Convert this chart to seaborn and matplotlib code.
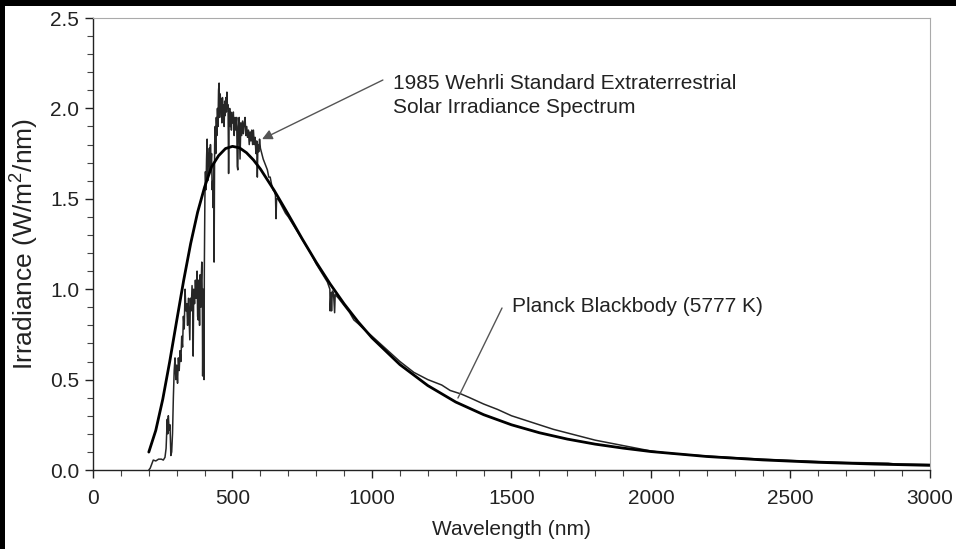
import numpy as np
import pandas as pd
import matplotlib
matplotlib.use("Agg")
import matplotlib.pyplot as plt
from matplotlib.patches import Rectangle
import seaborn as sns

# ---- Data ----
spec_wl = [200, 205, 210, 216, 225, 235, 245, 252, 258, 262, 266, 268, 270, 273, 276, 279,
           282, 285, 288, 291, 294, 297, 300, 303, 306, 309, 312, 315, 318, 321, 324, 327,
           330, 333, 336, 339, 342, 345, 347, 349, 352, 355, 358, 359, 361, 364, 367, 370,
           373, 375, 377, 379, 382, 384, 386, 388, 390, 392, 393, 395, 397, 398, 399, 401,
           403, 405, 407, 409, 411, 413, 415, 417, 419, 421, 423, 425, 427, 429, 431, 433,
           434, 436, 438, 440, 442, 444, 446, 448, 450, 452, 454, 456, 458, 460, 462, 464,
           466, 468, 470, 472, 474, 476, 478, 480, 482, 484, 486, 488, 490, 492, 494, 496,
           498, 500, 503, 506, 509, 512, 515, 517, 519, 521, 524, 527, 530, 533, 536, 539,
           542, 545, 548, 551, 554, 557, 560, 563, 566, 569, 572, 575, 578, 581, 584, 587,
           589, 591, 594, 597, 600, 605, 610, 615, 620, 625, 630, 635, 640, 645, 650, 654,
           656, 658, 662, 670, 680, 690, 700, 720, 740, 760, 780, 800, 820, 840, 849, 850,
           853, 855, 858, 862, 866, 868, 880, 900, 920, 935, 950, 970, 1000, 1050, 1100,
           1150, 1200, 1250, 1280, 1300, 1320, 1350, 1400, 1450, 1500, 1550, 1600, 1650,
           1700, 1750, 1800, 1850, 1900, 1950, 2000, 2050, 2100, 2200, 2300, 2400, 2500,
           2600, 2700, 2800, 2850, 2870, 2900, 3000]
spec_val = [0.0, 0.01, 0.03, 0.055, 0.05, 0.06, 0.06, 0.055, 0.07, 0.12, 0.28, 0.20, 0.30, 0.22, 0.25, 0.08,
            0.10, 0.20, 0.40, 0.55, 0.62, 0.50, 0.58, 0.48, 0.62, 0.55, 0.66, 0.60, 0.74, 0.68, 0.85, 0.78,
            1.00, 0.88, 0.92, 0.80, 0.95, 0.82, 0.72, 0.95, 0.88, 1.02, 0.90, 0.63, 1.00, 0.92, 1.05, 0.95,
            1.10, 0.85, 0.83, 1.05, 0.80, 1.08, 0.90, 1.05, 1.15, 0.90, 0.52, 1.00, 0.55, 0.50, 1.10, 1.50,
            1.65, 1.55, 1.72, 1.83, 1.60, 1.75, 1.68, 1.78, 1.65, 1.80, 1.70, 1.75, 1.55, 1.60, 1.45, 1.70,
            1.15, 1.80, 1.90, 1.75, 1.95, 1.85, 2.00, 1.90, 2.10, 2.14, 1.95, 2.08, 1.98, 2.05, 1.92, 2.06,
            1.95, 2.02, 1.90, 2.04, 1.96, 2.06, 1.98, 2.09, 2.00, 2.02, 1.64, 1.95, 2.00, 1.90, 1.98, 1.88,
            1.96, 1.92, 1.98, 1.85, 1.95, 1.88, 1.95, 1.68, 1.66, 1.90, 1.95, 1.72, 1.92, 1.85, 1.93, 1.86,
            1.92, 1.95, 1.85, 1.90, 1.84, 1.88, 1.80, 1.87, 1.82, 1.88, 1.80, 1.88, 1.80, 1.84, 1.75, 1.82,
            1.62, 1.80, 1.76, 1.83, 1.78, 1.75, 1.72, 1.70, 1.68, 1.66, 1.62, 1.62, 1.58, 1.55, 1.54, 1.52,
            1.39, 1.50, 1.50, 1.48, 1.45, 1.42, 1.40, 1.35, 1.30, 1.25, 1.20, 1.14, 1.09, 1.04, 1.00, 0.88,
            0.98, 0.88, 0.99, 0.98, 0.87, 0.97, 0.95, 0.91, 0.87, 0.83, 0.81, 0.78, 0.74, 0.67, 0.60,
            0.54, 0.50, 0.47, 0.44, 0.43, 0.42, 0.40, 0.365, 0.335, 0.30, 0.275, 0.25, 0.225,
            0.205, 0.185, 0.165, 0.150, 0.135, 0.120, 0.105, 0.095, 0.088, 0.077, 0.068, 0.060, 0.053,
            0.047, 0.042, 0.039, 0.038, 0.034, 0.033, 0.031]

planck_wl = [200, 225, 250, 275, 300, 325, 350, 375, 400, 425, 450, 475, 500, 525, 550, 575,
             600, 650, 700, 750, 800, 850, 900, 950, 1000, 1100, 1200, 1300, 1400, 1500, 1600,
             1700, 1800, 1900, 2000, 2200, 2400, 2600, 2800, 3000]
planck_val = [0.099, 0.219, 0.391, 0.600, 0.826, 1.049, 1.252, 1.426, 1.565, 1.677, 1.738, 1.778,
              1.790, 1.782, 1.755, 1.715, 1.665, 1.545, 1.413, 1.278, 1.149, 1.029, 0.919, 0.820,
              0.731, 0.583, 0.467, 0.376, 0.306, 0.250, 0.206, 0.171, 0.143, 0.121, 0.102,
              0.0747, 0.0558, 0.0424, 0.0328, 0.0257]

x_ticks = [0, 500, 1000, 1500, 2000, 2500, 3000]
y_ticks = [0.0, 0.5, 1.0, 1.5, 2.0, 2.5]
x_label = "Wavelength (nm)"
y_label = "Irradiance (W/m$^2$/nm)"
spec_text = "1985 Wehrli Standard Extraterrestrial\nSolar Irradiance Spectrum"
planck_text = "Planck Blackbody (5777 K)"

spec_df = pd.DataFrame({"wl": spec_wl, "val": spec_val})
planck_df = pd.DataFrame({"wl": planck_wl, "val": planck_val})

sns.set_style("ticks")
plt.rcParams["font.family"] = ["Liberation Sans", "DejaVu Sans"]
plt.rcParams["mathtext.fontset"] = "custom"
plt.rcParams["mathtext.rm"] = "Liberation Sans"

fig = plt.figure(figsize=(9.56, 5.49), dpi=100)
ax = fig.add_axes([93 / 956, 1 - 470 / 549, (930 - 93) / 956, (470 - 18) / 549])

sns.lineplot(data=spec_df, x="wl", y="val", ax=ax, color="#262626", linewidth=1.1,
             estimator=None, sort=False)
sns.lineplot(data=planck_df, x="wl", y="val", ax=ax, color="black", linewidth=2.0,
             estimator=None, sort=False)

ax.set_xlim(0, 3000)
ax.set_ylim(0, 2.5)
ax.set_xticks(x_ticks)
ax.set_yticks(y_ticks)
ax.set_xticklabels([str(t) for t in x_ticks])
ax.set_yticklabels([f"{t:.1f}" for t in y_ticks])
ax.set_xticks(np.arange(0, 3001, 100), minor=True)
ax.set_yticks(np.arange(0, 2.51, 0.1), minor=True)
ax.tick_params(axis="both", which="major", labelsize=15, length=6, width=1,
               color="#222222", labelcolor="#222222", direction="out")
ax.tick_params(axis="both", which="minor", length=4, width=0.8, color="#444444",
               direction="out")
ax.tick_params(axis="x", pad=8)
ax.tick_params(axis="y", pad=4)

ax.set_xlabel(x_label, fontsize=15, color="#222222", labelpad=8)
ax.set_ylabel(y_label, fontsize=19, color="#222222")
ax.yaxis.set_label_coords(-(93 - 40) / 837, 0.5)

for s in ["left", "bottom"]:
    ax.spines[s].set_color("#222222")
    ax.spines[s].set_linewidth(1.0)
for s in ["top", "right"]:
    ax.spines[s].set_visible(True)
    ax.spines[s].set_color("#aaaaaa")
    ax.spines[s].set_linewidth(0.8)

ax.text(1075, 2.07, spec_text, fontsize=15, color="#222222", ha="left", va="center",
        linespacing=1.3)
ax.annotate("", xy=(606, 1.83), xytext=(1039, 2.157),
            arrowprops=dict(arrowstyle="-|>", color="#555555", lw=1.0,
                            mutation_scale=15, shrinkA=0, shrinkB=0),
            annotation_clip=False)
ax.text(1502, 0.905, planck_text, fontsize=15, color="#222222", ha="left", va="center")
ax.annotate("", xy=(1308, 0.398), xytext=(1466, 0.896),
            arrowprops=dict(arrowstyle="-", color="#555555", lw=1.0,
                            shrinkA=0, shrinkB=0),
            annotation_clip=False)

# black frame remnants of the screenshot
fig.add_artist(Rectangle((0, 1 - 6 / 549), 1, 6 / 549, transform=fig.transFigure,
                         facecolor="black", edgecolor="none"))
fig.add_artist(Rectangle((0, 0), 5 / 956, 1, transform=fig.transFigure,
                         facecolor="black", edgecolor="none"))

fig.savefig("out.png", dpi=100, facecolor="white")
